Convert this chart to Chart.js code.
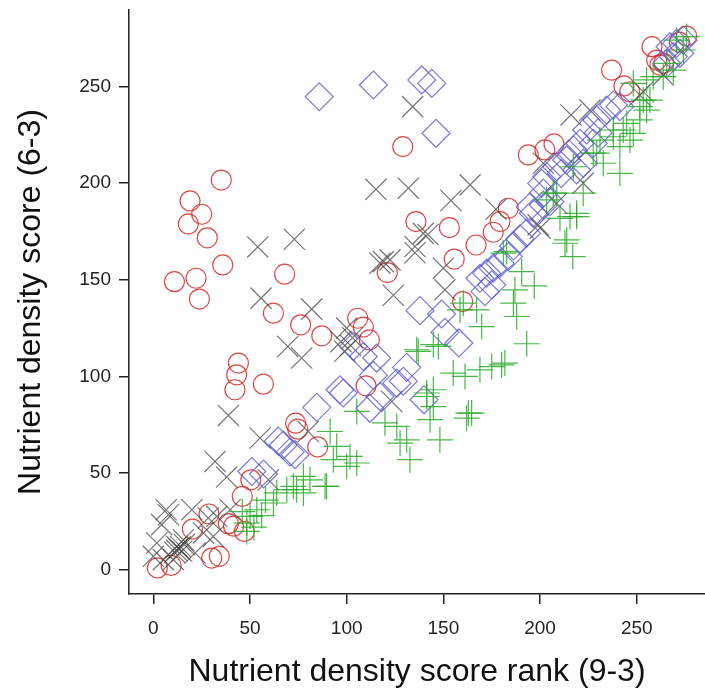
<!DOCTYPE html>
<html>
<head>
<meta charset="utf-8">
<script src="https://cdn.jsdelivr.net/npm/chart.js@4"></script>
<style>
  html, body { margin: 0; padding: 0; background: #fff; }
  #chart { display: block; }
</style>
</head>
<body>
<canvas id="chart" width="705" height="691"></canvas>
<script>
// [x = rank (9-3), y = score (6-3)]
const circlePoints = [
  [35.1,201.6],[19.0,190.8],[25.0,183.9],[18.1,178.9],[27.9,171.7],[129.0,218.9],[135.8,180.1],
  [35.9,157.7],[10.9,149.0],[22.1,150.8],[23.8,140.0],[67.9,152.9],[121.0,153.7],[62.1,132.7],
  [76.2,126.7],[87.1,121.0],[105.7,130.1],[108.6,125.5],[111.7,118.9],[44.0,106.9],[43.1,100.8],
  [42.2,93.1],[56.9,96.0],[110.0,95.1],[73.6,75.8],[74.7,72.7],[85.0,63.5],[50.4,46.5],[46.0,37.9],
  [28.8,28.8],[20.2,21.0],[38.8,23.8],[41.5,22.5],[47.1,19.8],[30.2,6.0],[34.1,6.9],[2.1,0.9],
  [9.2,2.2],[237.0,258.5],[243.4,250.3],[246.4,247.3],[257.9,270.6],[260.3,263.7],[262.0,261.1],
  [264.0,262.0],[275.8,276.1],[272.0,273.0],[193.9,214.6],[202.5,217.2],[207.2,220.3],[153.1,177.0],
  [166.9,168.0],[175.8,174.6],[179.3,180.1],[183.6,187.0],[155.6,160.7],[160.0,138.7]
];

const crossPoints = [
  [134.1,239.6],[115.1,196.8],[131.9,197.4],[72.9,171.0],[54.0,167.0],[139.6,174.0],[153.9,191.0],
  [163.8,199.1],[216.0,235.3],[225.8,237.8],[177.2,186.5],[142.0,173.4],[200.0,176.7],[251.6,245.6],
  [263.7,256.0],[222.3,200.0],[55.7,140.5],[81.9,134.8],[69.5,115.5],[76.7,109.5],[117.2,158.6],
  [122.4,160.3],[124.1,142.0],[135.3,164.0],[100.0,125.0],[103.0,120.0],[97.0,118.0],[102.0,116.0],
  [99.0,113.0],[38.8,79.8],[55.2,68.1],[123.3,87.0],[31.9,56.0],[37.9,47.9],[80.1,71.5],[59.5,46.5],
  [6.6,31.0],[4.3,23.3],[7.8,28.4],[1.8,13.8],[0.0,6.9],[12.1,12.0],[15.5,15.5],[14.7,9.5],
  [10.3,5.2],[19.9,31.0],[25.9,19.0],[31.0,17.2],[32.8,27.6],[21.6,8.6],[5.2,5.2],[39.7,31.0],
  [28.4,26.7],[12.0,10.0],[13.0,11.0],[14.0,12.0],[16.0,13.0],[11.0,9.0],[135.3,167.2],[150.0,156.0],
  [150.8,144.8],[119.0,159.4],[201.7,210.3],[199.0,178.4],[208.6,189.6],[253.4,247.3]
];

const diamondPoints = [
  [85.8,244.7],[113.8,250.8],[138.8,253.4],[144.0,251.6],[146.2,225.8],[137.9,134.0],[149.1,132.3],
  [150.8,122.8],[158.0,117.3],[115.5,109.5],[108.6,110.3],[103.4,115.5],[131.0,104.7],[129.3,97.5],
  [140.0,87.9],[117.2,89.6],[113.8,100.5],[84.5,84.0],[96.5,93.1],[98.2,91.4],[112.0,83.5],
  [125.9,96.5],[67.2,64.5],[70.7,60.8],[73.3,59.5],[64.6,66.5],[50.9,50.8],[57.0,49.5],[168.9,150.8],
  [172.4,153.4],[175.8,156.0],[175.0,147.4],[171.5,143.9],[179.3,158.6],[183.6,162.0],[186.2,167.5],
  [189.6,171.2],[193.0,174.1],[194.8,187.8],[196.5,184.4],[200.8,199.9],[201.7,188.7],[203.4,203.4],
  [205.1,190.4],[201.7,194.8],[208.6,208.5],[213.8,212.0],[217.2,217.2],[218.9,206.8],[220.6,220.6],
  [222.3,210.3],[224.1,227.5],[227.5,220.6],[229.3,232.7],[234.4,237.8],[237.9,240.4],[241.3,239.6],
  [265.5,262.0],[267.2,270.6],[270.6,272.3],[274.0,274.0],[272.3,267.2],[268.9,265.5],[211.0,205.0],
  [215.0,215.0],[230.0,226.0]
];

const plusPoints = [
  [218.9,182.7],[210.3,181.8],[212.9,168.9],[216.9,162.0],[190.5,154.2],[197.0,146.8],[187.0,144.8],
  [186.2,137.9],[187.9,131.0],[193.1,116.9],[182.7,164.6],[181.0,163.8],[169.8,125.8],[158.6,134.4],
  [160.3,137.9],[167.2,134.4],[147.4,115.5],[137.0,112.9],[136.2,113.8],[144.8,116.4],[155.1,101.7],
  [161.2,100.0],[168.9,103.4],[175.0,105.1],[180.1,106.0],[181.8,106.9],[141.4,89.6],[144.8,84.4],
  [148.2,67.2],[143.1,77.6],[132.7,56.9],[162.9,81.0],[164.6,81.0],[162.0,78.4],[105.2,81.9],
  [119.8,75.9],[125.9,74.1],[127.6,65.5],[131.0,67.2],[141.4,91.4],[144.8,93.1],[91.4,71.5],
  [94.8,63.8],[93.1,56.9],[100.0,53.4],[89.6,43.1],[81.0,46.5],[77.6,39.7],[72.4,43.1],[69.0,41.4],
  [63.8,39.7],[62.1,34.5],[53.5,31.0],[50.0,27.6],[48.3,24.1],[101.7,58.6],[105.2,55.2],[88.8,43.1],
  [77.6,48.3],[48.3,19.8],[74.1,41.4],[46.0,30.0],[52.0,22.0],[56.0,28.0],[58.0,36.0],[248.2,251.6],
  [255.1,253.4],[258.5,255.1],[263.7,255.1],[253.4,243.0],[256.8,243.0],[251.6,239.6],[255.1,237.8],
  [244.8,230.9],[248.2,225.8],[246.5,222.3],[241.3,218.9],[237.9,224.0],[241.3,205.1],[232.7,210.3],
  [229.3,215.5],[222.3,194.8],[218.9,184.4],[213.8,170.6],[270.6,274.0],[275.8,275.8],[274.1,268.9],
  [265.5,262.0],[268.9,258.5],[206.8,194.8],[203.4,191.3],[243.0,227.5],[251.6,232.7],[231.0,222.3],
  [227.5,215.5],[217.2,208.5],[215.5,182.7],[208.6,194.8],[237.9,227.5]
];

const xTicks = [0, 50, 100, 150, 200, 250];
const yTicks = [0, 50, 100, 150, 200, 250];
const xTitle = 'Nutrient density score rank (9-3)';
const yTitle = 'Nutrient density score (6-3)';

const FONT = "'Liberation Sans', Arial, Helvetica, sans-serif";
const AXIS = '#222';

function toXY(pts) {
  return pts.map(p => ({ x: p[0], y: p[1] }));
}

function markerSet(label, pts, style, radius, color, order) {
  return {
    label: label,
    data: toXY(pts),
    pointStyle: style,
    pointRadius: radius,
    pointBorderColor: color,
    pointBackgroundColor: 'rgba(0,0,0,0)',
    pointBorderWidth: 1.2,
    order: order
  };
}

// R-like axis: outside ticks, no grid, fixed box size, no label overhang padding
function axis(ticks, title, fitSide, fitSize, titlePad) {
  return {
    type: 'linear',
    afterBuildTicks: s => { s.ticks = ticks.map(v => ({ value: v })); },
    afterFit: s => {
      s[fitSide] = fitSize;
      s.paddingLeft = 0; s.paddingRight = 0;
      s.paddingTop = 0; s.paddingBottom = 0;
    },
    border: { display: true, color: AXIS, width: 1.5 },
    grid: { drawOnChartArea: false, drawTicks: true, tickLength: 10, color: AXIS, lineWidth: 1.5 },
    ticks: { color: AXIS, font: { family: FONT, size: 19 }, padding: 6 },
    title: { display: true, text: title, color: '#111', font: { family: FONT, size: 32 }, padding: titlePad }
  };
}

const xScale = axis(xTicks, xTitle, 'height', 97, { top: 0, bottom: 0 });
xScale.min = -12.6;
xScale.max = 285.3;
xScale.ticks.padding = 13;

const yScale = axis(yTicks, yTitle, 'width', 129, { top: 12, bottom: 0 });
yScale.min = -12.6;
yScale.max = 289.6;
yScale.ticks.padding = 8;

new Chart(document.getElementById('chart'), {
  type: 'scatter',
  data: {
    datasets: [
      markerSet('plus', plusPoints, 'cross', 13, 'rgba(40,170,40,0.85)', 1),
      markerSet('diamond', diamondPoints, 'rectRot', 14, 'rgba(90,90,205,0.8)', 2),
      markerSet('cross', crossPoints, 'crossRot', 15, 'rgba(70,70,70,0.75)', 3),
      markerSet('circle', circlePoints, 'circle', 10, 'rgba(215,40,40,0.85)', 4)
    ]
  },
  options: {
    responsive: false,
    animation: false,
    events: [],
    layout: { autoPadding: false, padding: { top: 10, right: 0, bottom: 0, left: 0 } },
    plugins: { legend: { display: false }, tooltip: { enabled: false } },
    scales: { x: xScale, y: yScale }
  }
});
</script>
</body>
</html>
